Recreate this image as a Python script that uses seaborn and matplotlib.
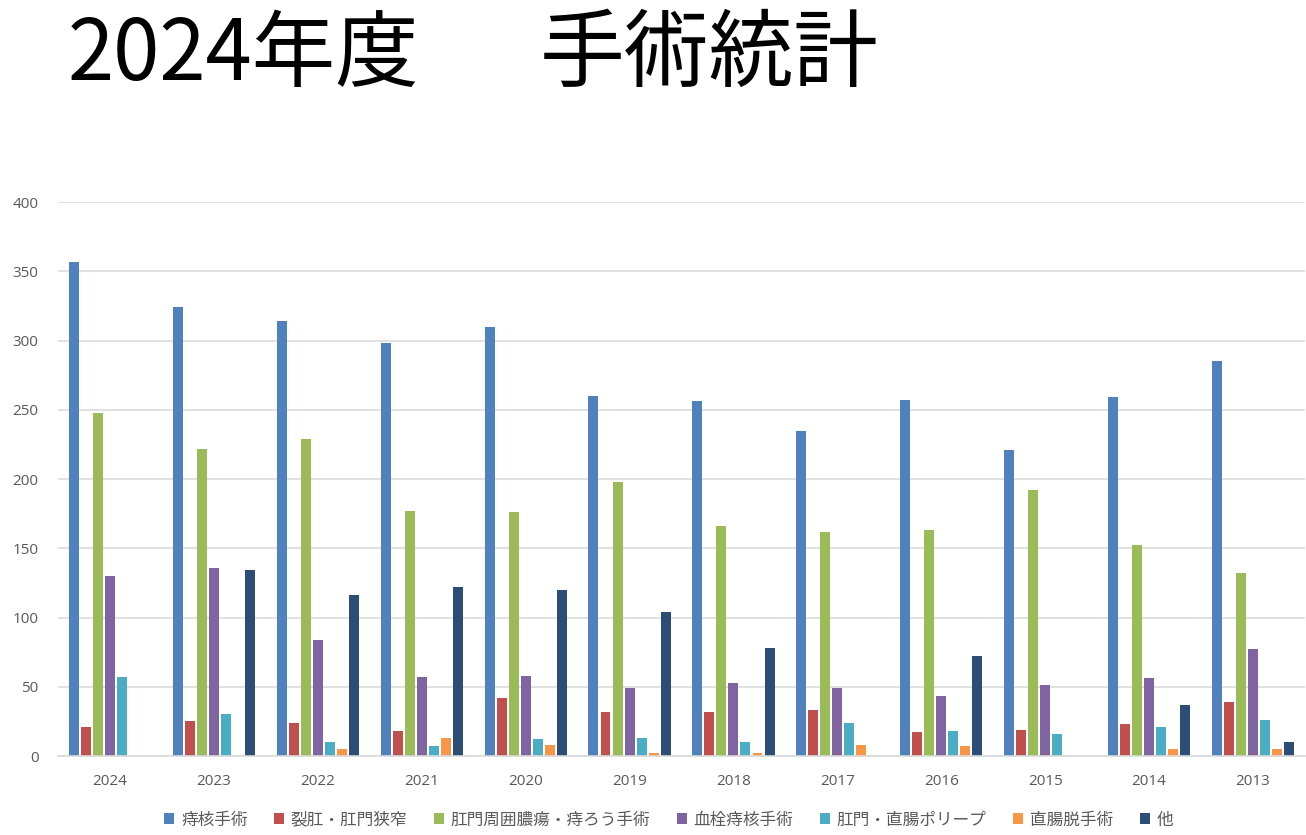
import numpy as np
import pandas as pd
import matplotlib
matplotlib.use("Agg")
import matplotlib.pyplot as plt
import seaborn as sns
from matplotlib.patches import Patch

years = ["2024", "2023", "2022", "2021", "2020", "2019", "2018", "2017", "2016", "2015", "2014", "2013"]
types = ["痔核手術", "裂肛・肛門狭窄", "肛門周囲膿瘍・痔ろう手術", "血栓痔核手術", "肛門・直腸ポリープ", "直腸脱手術", "他"]

hemorrhoid = [357, 324, 314, 298, 310, 260, 256, 235, 257, 221, 259, 285]
fissure = [21, 25, 24, 18, 42, 32, 32, 33, 17, 19, 23, 39]
abscess_fistula = [248, 222, 229, 177, 176, 198, 166, 162, 163, 192, 152, 132]
thrombosed = [130, 136, 84, 57, 58, 49, 53, 49, 43, 51, 56, 77]
polyp = [57, 30, 10, 7, 12, 13, 10, 24, 18, 16, 21, 26]
prolapse = [0, 0, 5, 13, 8, 2, 2, 8, 7, 0, 5, 5]
other = [0, 134, 116, 122, 120, 104, 78, 0, 72, 0, 37, 10]

colors = ["#4F81BD", "#C0504D", "#9BBB59", "#8064A2", "#4BACC6", "#F79646", "#2C4D75"]

series = [hemorrhoid, fissure, abscess_fistula, thrombosed, polyp, prolapse, other]
rows = []
for t, vals in zip(types, series):
    for y, v in zip(years, vals):
        rows.append({"year": y, "type": t, "count": v})
df = pd.DataFrame(rows)

sns.set_style("white")
plt.rcParams['font.family'] = ['Noto Sans CJK JP', 'DejaVu Sans']

fig = plt.figure(figsize=(13.06, 8.35), dpi=100)
ax = fig.add_axes([58 / 1306, 1 - 756 / 835, 1247 / 1306, 554 / 835])

sns.barplot(data=df, x="year", y="count", hue="type", order=years, hue_order=types,
            palette=colors, saturation=1, width=0.81, gap=0.17, linewidth=0,
            errorbar=None, legend=False, ax=ax)

ax.set_ylim(0, 400)
ax.set_xlim(-0.5, 11.5)
ax.set_yticks(np.arange(0, 401, 50))
ax.yaxis.grid(True, color="#D9D9D9", linewidth=1.1)
ax.set_axisbelow(True)
for s in ["top", "right", "left"]:
    ax.spines[s].set_visible(False)
ax.spines["bottom"].set_color("#D9D9D9")
ax.spines["bottom"].set_linewidth(1.2)
ax.tick_params(axis="both", length=0, labelsize=11, labelcolor="#595959")
ax.tick_params(axis="y", pad=14)
ax.tick_params(axis="x", pad=13)
for lbl in ax.get_xticklabels() + ax.get_yticklabels():
    lbl.set_family(["Open Sans", "DejaVu Sans"])
ax.set_xlabel("")
ax.set_ylabel("")

handles = [Patch(facecolor=c, edgecolor="none") for c in colors]
fig.legend(handles, types, loc="center", bbox_to_anchor=(0.512, 1 - 820 / 835), ncol=7,
           frameon=False, fontsize=12, labelcolor="#595959", handlelength=0.6,
           handleheight=0.6, handletextpad=0.4, columnspacing=1.6)

fig.text(68 / 1306, 1 - 56 / 835, "2024年度", fontsize=60, va="center", ha="left", color="black")
fig.text(540 / 1306, 1 - 56 / 835, "手術統計", fontsize=61, va="center", ha="left", color="black")

fig.savefig("out.png", dpi=100)
